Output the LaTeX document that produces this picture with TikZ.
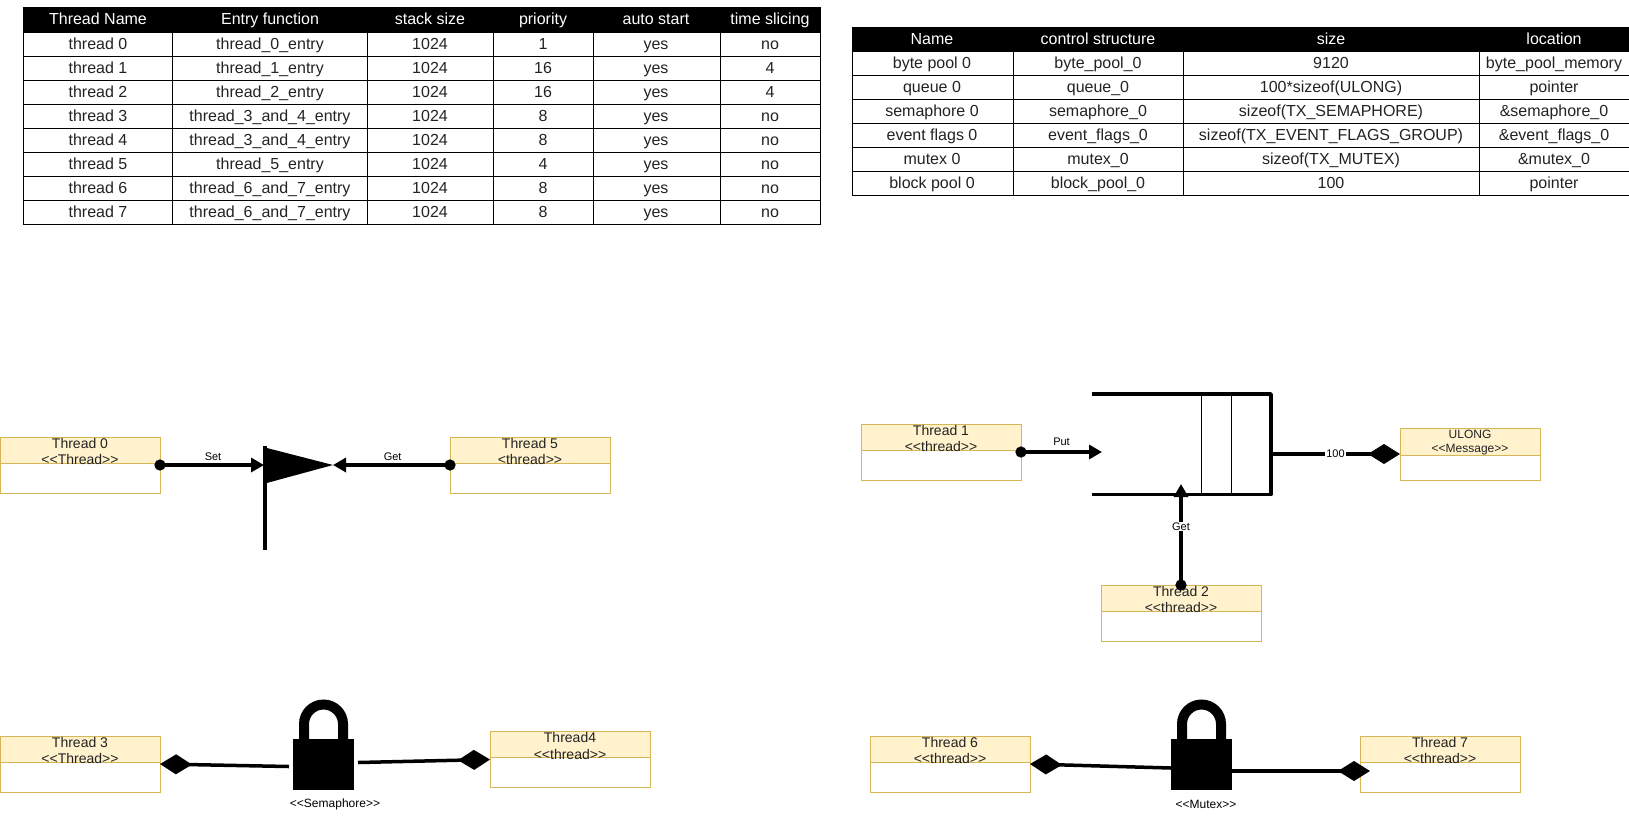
\documentclass[tikz,border=0pt]{standalone}
\usepackage{fontspec}
\setmainfont{Liberation Sans}
\usetikzlibrary{arrows.meta}
\definecolor{HeadFill}{HTML}{FFF2CC}
\definecolor{BoxEdge}{HTML}{D6B656}
\definecolor{TextInk}{HTML}{222222}
\newcommand{\headline}[2]{\fontsize{#1}{#2}\selectfont}
\begin{document}
\begin{tikzpicture}[x=1pt,y=-1pt,
  every node/.style={text=TextInk,inner sep=0pt,outer sep=0pt},
  cell/.style={font=\headline{16}{18},text height=11pt,text depth=3pt},
  headcell/.style={font=\headline{16}{18},text=white,text height=11pt,text depth=3pt},
  threadbox/.style={draw=BoxEdge,line width=1pt,fill=white,minimum width=160pt,minimum height=56pt,
    path picture={\fill[HeadFill] (path picture bounding box.north west) rectangle ([yshift=-26pt]path picture bounding box.north east);
    \draw[BoxEdge,line width=1pt] ([yshift=-26pt]path picture bounding box.north west)--([yshift=-26pt]path picture bounding box.north east);}},
  threadtext/.style={font=\headline{14}{16.5},align=center,anchor=north,yshift=-1pt},
  tag/.style={font=\headline{11}{12},text=black},
  locktag/.style={font=\headline{12}{13},text=black},
  putarrow/.style={{Circle[length=11pt,width=11pt]}-{Triangle[length=13pt,width=14pt]},line width=3.5pt,shorten <=-5.5pt},
  holdleft/.style={{Diamond[length=32pt,width=20pt]}-,line width=3.5pt},
  holdright/.style={-{Diamond[length=32pt,width=20pt]},line width=3.5pt},
  lockbody/.style={fill=black,minimum width=61pt,minimum height=51pt},
  lockbar/.style={line width=10pt}]
\useasboundingbox (0,0) rectangle (1629,823);

% thread table
\fill[black] (23,7) rectangle (820,32);
\draw[line width=1pt] (23,7) rectangle (820,224);
\foreach \rowy in {56,80,104,128,152,176,200} {\draw[line width=1pt] (23,\rowy)--(820,\rowy);}
\draw[line width=1pt] (23,32)--(820,32);
\foreach \colx in {172.5,367,493.5,593,720} {\draw[line width=1pt] (\colx,7)--(\colx,224);}
\foreach \colx/\coltext [count=\c] in {98/Thread Name,270/Entry function,430/stack size,543/priority,656/auto start,770/time slicing} {\node[headcell] (threadhead\c) at (\colx,20) {\coltext};}
\foreach \a/\b/\d/\e/\f/\g [count=\r] in {thread 0/thread\_0\_entry/1024/1/yes/no,thread 1/thread\_1\_entry/1024/16/yes/4,thread 2/thread\_2\_entry/1024/16/yes/4,thread 3/thread\_3\_and\_4\_entry/1024/8/yes/no,thread 4/thread\_3\_and\_4\_entry/1024/8/yes/no,thread 5/thread\_5\_entry/1024/4/yes/no,thread 6/thread\_6\_and\_7\_entry/1024/8/yes/no,thread 7/thread\_6\_and\_7\_entry/1024/8/yes/no} {
  \pgfmathsetmacro{\rowy}{21+24*\r}
  \node[cell] (thr\r a) at (98,\rowy) {\a}; \node[cell] (thr\r b) at (270,\rowy) {\b}; \node[cell] (thr\r c) at (430,\rowy) {\d};
  \node[cell] (thr\r d) at (543,\rowy) {\e}; \node[cell] (thr\r e) at (656,\rowy) {\f}; \node[cell] (thr\r f) at (770,\rowy) {\g};
}

% resource table
\fill[black] (852,27) rectangle (1629,51);
\draw[line width=1pt] (852,27) rectangle (1629,195);
\foreach \rowy in {51,75,99,123,147,171} {\draw[line width=1pt] (852,\rowy)--(1629,\rowy);}
\foreach \colx in {1013,1183.5,1479.5} {\draw[line width=1pt] (\colx,27)--(\colx,195);}
\foreach \colx/\coltext [count=\c] in {932/Name,1098/control structure,1331/size,1554/location} {\node[headcell] (reshead\c) at (\colx,40.5) {\coltext};}
\foreach \a/\b/\d/\e [count=\r] in {byte pool 0/byte\_pool\_0/9120/byte\_pool\_memory,queue 0/queue\_0/100*sizeof(ULONG)/pointer,semaphore 0/semaphore\_0/sizeof(TX\_SEMAPHORE)/\&semaphore\_0,event flags 0/event\_flags\_0/sizeof(TX\_EVENT\_FLAGS\_GROUP)/\&event\_flags\_0,mutex 0/mutex\_0/sizeof(TX\_MUTEX)/\&mutex\_0,block pool 0/block\_pool\_0/100/pointer} {
  \pgfmathsetmacro{\rowy}{40+24*\r}
  \node[cell] (res\r a) at (932,\rowy) {\a}; \node[cell] (res\r b) at (1098,\rowy) {\b}; \node[cell] (res\r c) at (1331,\rowy) {\d}; \node[cell] (res\r d) at (1554,\rowy) {\e};
}

% event flags
\node[threadbox] (thread0) at (80,465) {}; \node[threadtext] (thread0text) at (thread0.north) {Thread 0\\<{}<Thread>{}>};
\node[threadbox] (thread5) at (530,465) {}; \node[threadtext] (thread5text) at (thread5.north) {Thread 5\\<thread>{}>};
\coordinate (flagtop) at (265,446); \coordinate (flagfoot) at (265,550); \coordinate (flagleft) at (264,465); \coordinate (flagtip) at (333,465);
\draw[line width=3.5pt] (flagtop)--(flagfoot);
\fill (263,447)--(flagtip)--(263,484)--cycle;
\draw[putarrow] (thread0.east)--(flagleft) node[tag,pos=0.51,above=4.5pt] (settag) {Set};
\draw[putarrow] (thread5.west)--(flagtip) node[tag,pos=0.49,above=4.5pt] (gettag) {Get};

% queue
\node[threadbox] (thread1) at (941,452) {}; \node[threadtext] (thread1text) at (thread1.north) {Thread 1\\<{}<thread>{}>};
\node[threadbox] (thread2) at (1181,613) {}; \node[threadtext] (thread2text) at (thread2.north) {Thread 2\\<{}<thread>{}>};
\node[threadbox,minimum width=140pt,minimum height=52pt,
  path picture={\fill[HeadFill] (path picture bounding box.north west) rectangle ([yshift=-27pt]path picture bounding box.north east);
  \draw[BoxEdge,line width=1pt] ([yshift=-27pt]path picture bounding box.north west)--([yshift=-27pt]path picture bounding box.north east);}] (ulong) at (1470,454) {};
\node[threadtext,font=\headline{12}{14},yshift=-1pt] (ulongtext) at (ulong.north) {ULONG\\<{}<Message>{}>};
\coordinate (queuein) at (1102,452); \coordinate (queuefoot) at (1181,484); \coordinate (queueright) at (1271,454);
\draw[line width=1pt] (1201,394)--(1201,494); \draw[line width=1pt] (1231,394)--(1231,494);
\draw[line width=3.5pt,line join=round] (1092,394)--(1271,394)--(1271,494.5)--(1092,494.5);
\draw[putarrow] (thread1.east)--(queuein) node[tag,pos=0.5,above=6pt] (puttag) {Put};
\draw[putarrow] (thread2.north)--(queuefoot) node[tag,fill=white,pos=0.58,inner sep=1pt] (gettag2) {Get};
\draw[holdright] (queueright)--(ulong.west) node[tag,fill=white,pos=0.5,inner sep=1pt] (hundred) {100};

% semaphore
\node[threadbox] (thread3) at (80,764) {}; \node[threadtext] (thread3text) at (thread3.north) {Thread 3\\<{}<Thread>{}>};
\node[threadbox] (thread4) at (570,759.5) {}; \node[threadtext] (thread4text) at (thread4.north) {Thread4\\<{}<thread>{}>};
\node[lockbody] (semaphore) at (323.5,764.5) {};
\draw[lockbar] ([xshift=-19.5pt]semaphore.north)--++(0,-15)arc(180:360:19.5)--++(0,15);
\node[locktag] (semaphoretag) at (335,804) {<{}<Semaphore>{}>};
\coordinate (semleft) at (289,766.5); \coordinate (semright) at (358,762.5);
\draw[holdleft] (thread3.east)--(semleft);
\draw[holdright] (semright)--(thread4.west);

% mutex
\node[threadbox] (thread6) at (950,764) {}; \node[threadtext] (thread6text) at (thread6.north) {Thread 6\\<{}<thread>{}>};
\node[threadbox] (thread7) at (1440,764) {}; \node[threadtext] (thread7text) at (thread7.north) {Thread 7\\<{}<thread>{}>};
\node[lockbody] (mutex) at (1201.5,764.5) {};
\draw[lockbar] ([xshift=-19.5pt]mutex.north)--++(0,-15)arc(180:360:19.5)--++(0,15);
\node[locktag] (mutextag) at (1206,804) {<{}<Mutex>{}>};
\coordinate (mutexleft) at (1171,768); \coordinate (mutexright) at (1232,771); \coordinate (thread7hold) at (1370,771);
\draw[holdleft] (thread6.east)--(mutexleft);
\draw[holdright] (mutexright)--(thread7hold);
\end{tikzpicture}
\end{document}
